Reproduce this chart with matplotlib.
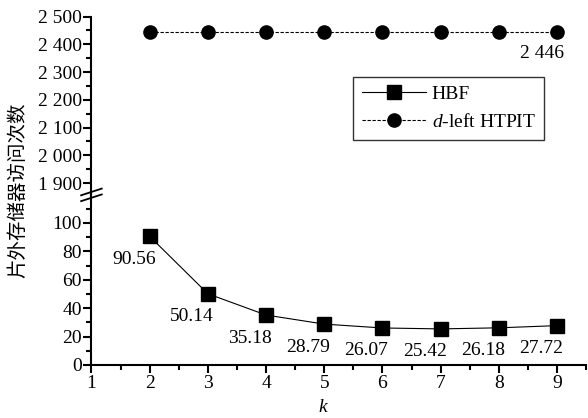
import matplotlib
matplotlib.use("Agg")
import matplotlib.pyplot as plt
from matplotlib.ticker import MultipleLocator, FuncFormatter
from matplotlib.lines import Line2D

plt.rcParams['font.family'] = ['Liberation Serif', 'Noto Sans CJK SC']
plt.rcParams['mathtext.fontset'] = 'custom'
plt.rcParams['mathtext.rm'] = 'Liberation Serif'
plt.rcParams['mathtext.it'] = 'Liberation Serif:italic'

k = [2, 3, 4, 5, 6, 7, 8, 9]
hbf = [90.56, 50.14, 35.18, 28.79, 26.07, 25.42, 26.18, 27.72]
htpit = [2446, 2446, 2446, 2446, 2446, 2446, 2446, 2446]
hbf_labels = ["90.56", "50.14", "35.18", "28.79", "26.07", "25.42", "26.18", "27.72"]

fig = plt.figure(figsize=(5.88, 4.18), dpi=100)
ax_top = fig.add_axes([0.1556, 0.5328, 0.8413, 0.4277])
ax_bot = fig.add_axes([0.1556, 0.1268, 0.8413, 0.4060])

fs = 14
thous = FuncFormatter(lambda v, p: f"{int(v):,}".replace(",", " "))

# upper part: d-left HTPIT
ax_top.plot(k, htpit, color='black', linestyle=(0, (3, 1.5)), linewidth=0.8,
            marker='o', markersize=9.5)
ax_top.set_xlim(1, 9.5)
ax_top.set_ylim(1856, 2500)
ax_top.yaxis.set_major_locator(MultipleLocator(100))
ax_top.yaxis.set_minor_locator(MultipleLocator(50))
ax_top.yaxis.set_major_formatter(thous)
ax_top.annotate("2 446", (k[-1], htpit[-1]), xytext=(-15, -22),
                textcoords='offset pixels', ha='center', va='center', fontsize=fs)
for s in ['top', 'right', 'bottom']:
    ax_top.spines[s].set_visible(False)
ax_top.xaxis.set_visible(False)

# lower part: HBF
ax_bot.plot(k, hbf, color='black', linestyle='-', linewidth=0.8,
            marker='s', markersize=10)
ax_bot.set_xlim(1, 9.5)
ax_bot.set_ylim(0, 119.5)
ax_bot.yaxis.set_major_locator(MultipleLocator(20))
ax_bot.yaxis.set_minor_locator(MultipleLocator(10))
ax_bot.xaxis.set_major_locator(MultipleLocator(1))
ax_bot.xaxis.set_minor_locator(MultipleLocator(0.5))
for x, y, t in zip(k, hbf, hbf_labels):
    ax_bot.annotate(t, (x, y), xytext=(-16, -23), textcoords='offset pixels',
                    ha='center', va='center', fontsize=fs)
for s in ['top', 'right']:
    ax_bot.spines[s].set_visible(False)

for ax in (ax_top, ax_bot):
    for s in ax.spines.values():
        s.set_linewidth(1.5)
    ax.tick_params(which='major', direction='out', length=6, width=1.5, labelsize=fs, pad=1)
    ax.tick_params(which='minor', direction='out', length=3.5, width=1.5)
    ax.patch.set_alpha(0)

# break marks on the y spine
yb = 0.5328
for dy in (-0.008, 0.006):
    fig.add_artist(Line2D([0.138, 0.173], [yb + dy - 0.006, yb + dy + 0.010],
                          color='black', linewidth=1.3))

fig.text(0.030, 0.545, "片外存储器访问次数", rotation=90, ha='center', va='center',
         fontsize=14, family=['Noto Sans CJK SC'])
fig.text(0.549, 0.025, "k", style='italic', ha='center', va='center', fontsize=fs)

handles = [Line2D([], [], color='black', linewidth=0.8, marker='s', markersize=10),
           Line2D([], [], color='black', linewidth=0.8, linestyle=(0, (3, 1.5)),
                  marker='o', markersize=9.5)]
leg = fig.legend(handles, ["HBF", "$\\it{d}$-left HTPIT"], loc='upper left',
                 bbox_to_anchor=(0.600, 0.816), borderaxespad=0, fontsize=fs,
                 frameon=True, fancybox=False, handlelength=3.3, borderpad=0.45,
                 labelspacing=0.5, handletextpad=0.3)
leg.get_frame().set_edgecolor('black')
leg.get_frame().set_linewidth(1.0)

fig.savefig("out.png", dpi=100)
